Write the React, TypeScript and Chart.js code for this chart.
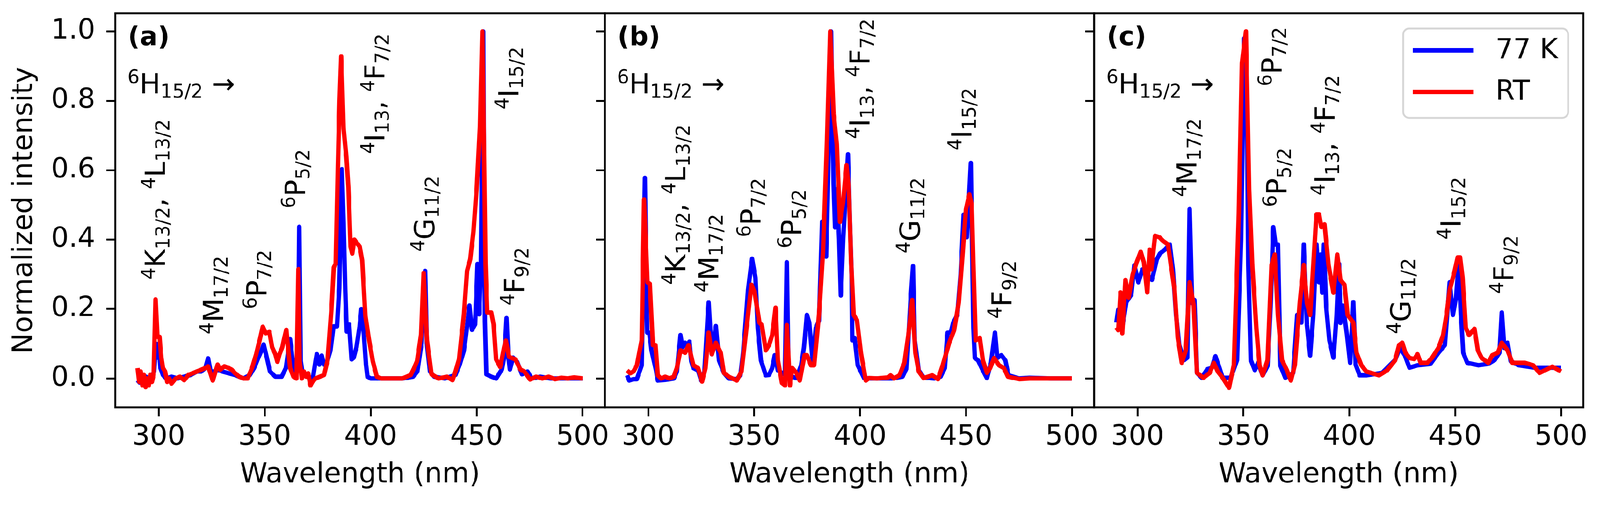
import React, { useEffect, useRef, useState } from "react";
import { Chart, registerables } from "chart.js";

Chart.register(...registerables);

// ---------------- data ----------------
type Pt = [number, number];
type Ann = { text: string; x: number; y: number };

const X_TICKS = [300, 350, 400, 450, 500];
const Y_TICKS = [0, 0.2, 0.4, 0.6, 0.8, 1.0];
const X_RANGE = [279.5, 510.5];
const Y_RANGE = [-0.083, 1.052];
const SERIES_LABELS = ["77 K", "RT"];
const SERIES_COLORS = ["#0000ff", "#ff0000"];
const PANEL_LETTERS = ["(a)", "(b)", "(c)"];
const X_TITLE = "Wavelength (nm)";
const Y_TITLE = "Normalized intensity";
const GROUND_LABEL = "^6H_{15/2} \u2192";

const A_77K: Pt[] = [[290,-0.005],[291,-0.012],[292,0.0],[293,-0.01],[294,0.005],[295,-0.008],[296.5,0.0],[297.8,0.02],[298.8,0.1],[299.4,0.06],[300,0.1],[300.8,0.03],[302,0.01],[303.5,0.0],[306,0.005],[309,0.0],[312,0.005],[315,0.01],[318,0.02],[320,0.02],[322,0.03],[323.3,0.058],[324.5,0.02],[326,0.02],[328,0.025],[330,0.02],[333,0.015],[336,0.01],[340,0.0],[343,0.01],[345,0.03],[347,0.06],[348.5,0.08],[349.5,0.098],[351,0.06],[352.5,0.02],[355,0.005],[358,0.005],[360,0.03],[362,0.113],[363,0.06],[364.5,0.01],[365.7,0.05],[366.3,0.437],[367,0.05],[368,0.01],[370,0.005],[372.7,0.0],[374,0.05],[374.6,0.07],[375.8,0.04],[376.9,0.066],[378,0.04],[379.5,0.05],[381,0.08],[382.5,0.15],[384.1,0.15],[385.2,0.26],[386.4,0.603],[387.2,0.45],[388,0.257],[388.7,0.135],[389.8,0.156],[391,0.055],[392,0.06],[393.3,0.09],[394.8,0.15],[395.6,0.2],[396.5,0.15],[397.8,0.04],[398.5,0.005],[400,0.0],[405,0.0],[410,0.0],[415,0.0],[420,0.005],[422,0.02],[424,0.1],[425.7,0.31],[426.5,0.1],[428,0.02],[430,0.005],[435,0.0],[440,0.01],[442,0.04],[444,0.08],[445.5,0.15],[446.6,0.21],[447.8,0.14],[449.3,0.156],[450.4,0.33],[451.2,0.185],[452,0.315],[453.1,1.0],[453.9,0.163],[454.6,0.012],[457,0.005],[459.2,0.0],[461.9,0.026],[463,0.06],[464.1,0.174],[465,0.06],[465.7,0.026],[467.2,0.06],[469.1,0.048],[471.4,0.012],[474,0.02],[476,0.0],[480,0.005],[485,0.0],[490,0.0],[495,0.0],[500,0.0]];

const A_RT: Pt[] = [[290,0.03],[290.8,-0.01],[291.5,0.02],[292.3,-0.02],[293,0.01],[293.8,-0.025],[294.5,0.0],[295.3,-0.02],[296,0.01],[296.8,-0.01],[297.6,0.01],[298.5,0.228],[299.4,0.12],[300.4,0.12],[301.2,0.06],[302,0.03],[303,0.02],[304,-0.01],[305,0.0],[306,-0.015],[308,0.0],[310,0.005],[312,-0.005],[314,0.01],[316,0.015],[318,0.02],[320,0.025],[322,0.03],[323.3,0.035],[325.5,-0.006],[327.8,0.04],[329,0.025],[331,0.035],[333,0.03],[334.5,0.025],[336,0.015],[338,0.005],[340,0.0],[342,0.0],[344,0.03],[346,0.07],[348,0.12],[349.1,0.149],[350.5,0.13],[352.2,0.134],[353.5,0.09],[355,0.07],[356,0.048],[357,0.07],[358.3,0.09],[359,0.11],[360.2,0.14],[361,0.09],[362,0.03],[363.6,0.005],[365,0.0],[365.9,0.315],[366.5,0.05],[367.5,0.0],[368.5,0.02],[369.5,0.005],[370.5,0.015],[371.6,-0.02],[372.5,-0.01],[374,0.0],[376,0.005],[378,0.01],[379.6,0.05],[381.5,0.2],[382.6,0.32],[383.5,0.33],[384.5,0.6],[385.3,0.8],[386.1,0.928],[387.2,0.72],[388.5,0.64],[389.5,0.55],[390.5,0.38],[391.3,0.36],[392.3,0.4],[393.5,0.39],[394.8,0.38],[396,0.34],[397.5,0.18],[399,0.12],[401,0.05],[402.9,0.005],[405,0.0],[410,0.0],[415,0.0],[418.9,0.01],[420.5,0.03],[421.9,0.05],[423.8,0.127],[425,0.304],[426.5,0.113],[428.7,0.012],[432,0.0],[436,0.005],[438.6,-0.005],[440,0.02],[441.7,0.055],[444,0.185],[445.5,0.31],[447,0.344],[448.5,0.423],[450,0.546],[451.6,0.726],[452.7,1.0],[454.2,0.33],[455,0.19],[456.9,0.19],[458,0.156],[459.2,0.055],[461.1,0.033],[463,0.09],[463.8,0.109],[465.3,0.062],[468.3,0.055],[470.6,0.026],[472.5,0.02],[475.2,-0.003],[478,0.005],[481,0.0],[484,0.005],[487,-0.002],[490,0.002],[493,0.0],[496,0.003],[500,0.0]];

const B_77K: Pt[] = [[290,0.009],[291,-0.006],[293,-0.002],[294.6,-0.002],[296.9,0.038],[298.4,0.578],[299.1,0.27],[299.5,0.132],[300.5,0.132],[301.5,0.081],[303.7,0.023],[304.5,-0.006],[308,-0.004],[312.1,0.0],[313.5,0.02],[315.2,0.125],[316.2,0.09],[317.4,0.103],[318.5,0.09],[319.4,0.106],[320.3,0.05],[321.3,0.03],[323.5,0.023],[325,-0.006],[326.5,0.02],[328.5,0.219],[330,0.07],[331.9,0.151],[333.4,0.052],[335.7,0.016],[338,0.0],[341.8,-0.002],[343.5,0.01],[344.8,0.074],[347.1,0.254],[349,0.345],[350.6,0.29],[351.7,0.146],[353.2,0.052],[355.5,0.009],[357,0.01],[358.5,0.03],[359.7,0.067],[361.2,0.023],[363.1,0.016],[364.5,0.01],[365.4,0.335],[366.2,0.02],[368,0.005],[369.9,0.001],[372.2,0.038],[373.5,0.09],[374.9,0.183],[376,0.161],[377.6,0.052],[379.1,0.145],[380.6,0.167],[382.1,0.452],[383.2,0.45],[384,0.351],[384.8,0.55],[386.3,1.0],[387.5,0.559],[388.2,0.435],[389,0.545],[390.1,0.4],[390.9,0.239],[392,0.4],[393.5,0.56],[394.3,0.646],[395.2,0.45],[396,0.3],[396.3,0.11],[397.4,0.117],[398.9,0.038],[401.9,0.001],[405,0.0],[410,0.0],[415,0.0],[420,0.005],[422,0.03],[424,0.24],[425,0.324],[425.8,0.11],[427.7,0.023],[430,0.003],[435,0.0],[438,0.005],[440,0.03],[441.3,0.132],[442.8,0.132],[444,0.161],[445.9,0.183],[447.5,0.3],[448.9,0.472],[450.4,0.407],[452.3,0.621],[453.5,0.146],[454.2,0.059],[455.7,0.052],[458,0.023],[459.9,0.001],[461.8,0.045],[463.7,0.132],[464.8,0.059],[466.7,0.067],[468.6,0.052],[470.1,0.009],[475,0.0],[480,0.002],[490,0.0],[500,0.0]];

const B_RT: Pt[] = [[290,0.023],[291.5,0.015],[293,0.02],[294.6,0.038],[296.9,0.11],[298,0.516],[299.6,0.277],[300.7,0.273],[302.2,0.096],[303.4,0.096],[304.5,0.009],[306,0.0],[308,0.005],[310,0.0],[312,0.005],[313.5,0.03],[315.2,0.081],[317.4,0.074],[319,0.096],[321.3,0.038],[323.5,0.03],[325.4,-0.009],[327,0.03],[328.5,0.132],[330,0.07],[331.9,0.103],[334.2,0.074],[335.7,0.016],[338,0.005],[341.8,-0.006],[344,0.02],[346.4,0.146],[348.7,0.27],[350.2,0.248],[352.5,0.161],[353.6,0.154],[355.5,0.081],[357,0.096],[358.5,0.125],[360.1,0.204],[361.2,0.052],[363.1,-0.013],[364.6,-0.02],[365.4,0.154],[366.9,-0.02],[368,0.03],[369.9,0.016],[371.5,-0.006],[373.8,0.067],[374.9,0.067],[376.8,0.038],[378.3,0.038],[380.6,0.183],[382.5,0.364],[384.4,0.69],[385.9,1.0],[387.5,0.762],[389,0.675],[390.5,0.451],[392,0.509],[393.6,0.614],[394.7,0.545],[395.8,0.33],[397,0.183],[398.5,0.168],[400.4,0.074],[402.7,-0.006],[404.2,0.001],[408,0.0],[413.3,0.003],[414.4,0.009],[416,0.0],[418.6,0.009],[420.9,0.045],[422.8,0.125],[424.6,0.226],[426.1,0.074],[427.7,0.02],[430,0.001],[434.1,0.009],[436.8,-0.002],[439,0.038],[442.1,0.103],[444.4,0.139],[446.6,0.219],[448.5,0.364],[450,0.487],[451.6,0.53],[452.7,0.501],[453.5,0.328],[454.6,0.11],[456.5,0.117],[458,0.052],[459.9,0.016],[461.4,0.03],[463.3,0.059],[465.6,0.038],[467.9,0.03],[469.8,0.005],[475.4,-0.002],[480,0.0],[490,0.0],[500,0.0]];

const C_77K: Pt[] = [[290,0.161],[290.9,0.198],[292.8,0.147],[294.7,0.22],[297,0.241],[298.5,0.326],[300.4,0.277],[302.3,0.314],[304.6,0.299],[306.8,0.284],[309.1,0.343],[310.6,0.36],[312.9,0.371],[315.2,0.386],[316.7,0.314],[318.2,0.183],[319.7,0.096],[322,0.053],[323.5,0.06],[324.6,0.488],[325.8,0.217],[326.9,0.226],[328.1,0.016],[330.3,0.002],[333,0.027],[335,0.03],[336.8,0.064],[338.7,0.03],[340.2,0.002],[344,0.002],[347,0.053],[348.9,0.4],[350.4,0.98],[351.6,0.835],[352.3,0.326],[353.5,0.053],[355.4,0.024],[356.9,0.045],[359.1,0.009],[361.4,0.036],[362.9,0.217],[364.1,0.436],[365.2,0.386],[366.3,0.386],[367.5,0.036],[369.8,0.002],[373.5,0.016],[375.4,0.183],[377.4,0.161],[378.5,0.386],[380,0.154],[381.5,0.066],[383,0.183],[384.5,0.386],[385.7,0.277],[386.4,0.357],[387.2,0.247],[388,0.386],[389.1,0.205],[390.6,0.11],[392.5,0.06],[394,0.18],[394.6,0.26],[395.2,0.33],[395.8,0.16],[397,0.21],[398.9,0.125],[400.4,0.045],[401.9,0.22],[403,0.04],[404.9,0.009],[408,0.009],[415.5,0.016],[421.6,0.053],[423.9,0.088],[426.2,0.067],[428.4,0.031],[432.2,0.038],[438.3,0.042],[442.1,0.074],[445.1,0.096],[447.4,0.277],[448.9,0.183],[450.4,0.233],[451.6,0.326],[452.7,0.183],[453.8,0.074],[455.7,0.045],[461,0.038],[465.6,0.042],[468.6,0.053],[470.9,0.074],[472,0.19],[473.2,0.088],[474.7,0.103],[476.2,0.05],[480,0.038],[487.6,0.031],[500,0.031]];

const C_RT: Pt[] = [[290,0.147],[290.9,0.139],[292,0.248],[292.8,0.13],[294.3,0.284],[295.8,0.233],[297.7,0.299],[299.6,0.335],[301.5,0.365],[303,0.335],[304.6,0.248],[305.7,0.371],[306.5,0.314],[308.3,0.411],[310.3,0.407],[312.1,0.396],[314.4,0.386],[315.9,0.321],[317.5,0.255],[319,0.118],[320.9,0.045],[322.8,0.081],[324.6,0.277],[326.5,0.212],[328.1,0.016],[331.1,0.002],[334.1,0.016],[336,0.045],[337.9,0.02],[340.2,0.002],[343.2,-0.027],[345.5,0.039],[347.8,0.473],[349.3,0.908],[351.2,1.0],[352.7,0.545],[354.2,0.327],[356.1,0.147],[357.6,0.038],[359.1,0.009],[361.4,0.053],[363.3,0.327],[364.8,0.357],[366.3,0.183],[368.2,0.053],[370.5,0.024],[372.4,-0.006],[374.3,0.039],[376.6,0.217],[378.5,0.327],[380,0.217],[381.5,0.183],[383,0.327],[384.5,0.473],[385.7,0.473],[386.8,0.436],[388.3,0.444],[390.2,0.327],[392.5,0.247],[394.3,0.357],[395.8,0.284],[397.7,0.27],[399.2,0.183],[401.9,0.161],[403.4,0.074],[405.7,0.038],[408,0.02],[414,0.009],[417.8,0.023],[421.6,0.052],[423.5,0.096],[425,0.103],[426.5,0.074],[428.4,0.059],[430.7,0.056],[432.2,0.07],[433.7,0.045],[436.8,0.045],[439,0.059],[442.1,0.088],[444.3,0.125],[445.9,0.183],[447.4,0.255],[449.3,0.299],[451.2,0.349],[452.3,0.349],[453.5,0.291],[455,0.146],[456.5,0.125],[459.1,0.143],[460.7,0.081],[462.5,0.059],[465.6,0.045],[467.5,0.067],[470.1,0.074],[472,0.103],[474.7,0.081],[477,0.045],[483,0.045],[486.8,0.038],[489.8,0.016],[495.9,0.034],[500,0.02]];

const A_LABELS: Ann[] = [
  { text: "^4K_{13/2}, ^4L_{13/2}", x: 303.0, y: 0.285 },
  { text: "^4M_{17/2}", x: 330.3, y: 0.127 },
  { text: "^6P_{7/2}", x: 350.8, y: 0.2 },
  { text: "^6P_{5/2}", x: 369.0, y: 0.49 },
  { text: "^4I_{13}, ^4F_{7/2}", x: 406.5, y: 0.647 },
  { text: "^4G_{11/2}", x: 430.0, y: 0.365 },
  { text: "^4I_{15/2}", x: 469.8, y: 0.775 },
  { text: "^4F_{9/2}", x: 472.3, y: 0.21 },
];
const B_LABELS: Ann[] = [
  { text: "^4K_{13/2}, ^4L_{13/2}", x: 317.5, y: 0.27 },
  { text: "^4M_{17/2}", x: 333.0, y: 0.248 },
  { text: "^6P_{7/2}", x: 353.0, y: 0.407 },
  { text: "^6P_{5/2}", x: 372.2, y: 0.375 },
  { text: "^4I_{13}, ^4F_{7/2}", x: 404.5, y: 0.69 },
  { text: "^4G_{11/2}", x: 428.2, y: 0.36 },
  { text: "^4I_{15/2}", x: 452.5, y: 0.657 },
  { text: "^4F_{9/2}", x: 471.5, y: 0.172 },
];
const C_LABELS: Ann[] = [
  { text: "^4M_{17/2}", x: 327.8, y: 0.523 },
  { text: "^6P_{7/2}", x: 368.1, y: 0.842 },
  { text: "^6P_{5/2}", x: 370.3, y: 0.494 },
  { text: "^4I_{13}, ^4F_{7/2}", x: 393.0, y: 0.527 },
  { text: "^4G_{11/2}", x: 428.9, y: 0.128 },
  { text: "^4I_{15/2}", x: 452.6, y: 0.4 },
  { text: "^4F_{9/2}", x: 477.5, y: 0.244 },
];

// ---------------- drawing helpers ----------------
const FAMILY = '"DejaVu Sans"';
const FS = 75;
const LINE_W = 12;
const DESIGN_W = 4317;
const DESIGN_H = 1357;

type Seg = { t: string; k: number };
function parseMath(s: string): Seg[] {
  const segs: Seg[] = [];
  let buf = "";
  let i = 0;
  const flush = () => { if (buf) { segs.push({ t: buf, k: 0 }); buf = ""; } };
  while (i < s.length) {
    const c = s[i];
    if (c === "^" || c === "_") {
      flush();
      let t = "";
      if (s[i + 1] === "{") {
        const j = s.indexOf("}", i + 2);
        t = s.slice(i + 2, j);
        i = j + 1;
      } else {
        t = s[i + 1];
        i += 2;
      }
      segs.push({ t, k: c === "^" ? 1 : -1 });
    } else {
      buf += c;
      i++;
    }
  }
  flush();
  return segs;
}

function drawMath(ctx: CanvasRenderingContext2D, s: string, x: number, y: number) {
  let cx = x;
  ctx.textBaseline = "alphabetic";
  ctx.textAlign = "left";
  for (const seg of parseMath(s)) {
    const size = seg.k === 0 ? FS : FS * 0.68;
    ctx.font = `${size}px ${FAMILY}`;
    const dy = seg.k === 1 ? -0.36 * FS : seg.k === -1 ? 0.16 * FS : 0;
    ctx.fillText(seg.t, cx, y + dy);
    cx += ctx.measureText(seg.t).width;
  }
}

function overlayPlugin(letter: string, labels: Ann[], legend: boolean) {
  return {
    id: "overlay",
    afterDraw(chart: any) {
      const { ctx, chartArea: a, scales } = chart;
      ctx.save();
      ctx.fillStyle = "#000";
      ctx.font = `bold 71px ${FAMILY}`;
      ctx.textBaseline = "alphabetic";
      ctx.textAlign = "left";
      ctx.fillText(letter, a.left + 34, a.top + 86);
      drawMath(ctx, GROUND_LABEL, a.left + 33, a.top + 216);
      for (const an of labels) {
        const px = scales.x.getPixelForValue(an.x);
        const py = scales.y.getPixelForValue(an.y);
        ctx.save();
        ctx.translate(px, py);
        ctx.rotate(-Math.PI / 2);
        drawMath(ctx, an.text, 0, 0);
        ctx.restore();
      }
      if (legend) {
        const bw = 445, bh = 241;
        const bx = a.right - 41 - bw, by = a.top + 41;
        ctx.beginPath();
        (ctx as any).roundRect(bx, by, bw, bh, 16);
        ctx.fillStyle = "rgba(255,255,255,0.8)";
        ctx.fill();
        ctx.strokeStyle = "#d6d6d6";
        ctx.lineWidth = 5;
        ctx.stroke();
        chart.data.datasets.forEach((ds: any, i: number) => {
          const ly = by + 59 + i * 112;
          ctx.strokeStyle = ds.borderColor;
          ctx.lineWidth = LINE_W;
          ctx.lineCap = "butt";
          ctx.beginPath();
          ctx.moveTo(bx + 26, ly);
          ctx.lineTo(bx + 189, ly);
          ctx.stroke();
          ctx.fillStyle = "#000";
          ctx.font = `${FS}px ${FAMILY}`;
          ctx.textBaseline = "middle";
          ctx.textAlign = "left";
          ctx.fillText(ds.label, bx + 249, ly + 2);
        });
      }
      ctx.strokeStyle = "#000";
      ctx.lineWidth = 5;
      ctx.strokeRect(a.left, a.top, a.right - a.left, a.bottom - a.top);
      ctx.restore();
    },
  };
}

type PanelDef = {
  s77: Pt[];
  sRT: Pt[];
  letter: string;
  labels: Ann[];
  legend: boolean;
  showY: boolean;
  yWidth: number;
};

function makeConfig(p: PanelDef): any {
  const font = { size: FS, family: FAMILY };
  const grid = {
    drawOnChartArea: false,
    drawTicks: true,
    tickLength: 24,
    tickWidth: 5,
    tickColor: "#000",
  };
  const mk = (pts: Pt[], i: number) => ({
    label: SERIES_LABELS[i],
    data: pts.map(([x, y]) => ({ x, y })),
    borderColor: SERIES_COLORS[i],
    backgroundColor: SERIES_COLORS[i],
    borderWidth: LINE_W,
    pointRadius: 0,
    tension: 0,
    borderJoinStyle: "round",
    order: i === 0 ? 1 : 0,
  });
  return {
    type: "line",
    data: { datasets: [mk(p.s77, 0), mk(p.sRT, 1)] },
    options: {
      animation: false,
      responsive: false,
      events: [],
      layout: { padding: { left: 0, top: 36, right: 28, bottom: 0 } },
      plugins: { legend: { display: false }, tooltip: { enabled: false } },
      scales: {
        x: {
          type: "linear",
          min: X_RANGE[0],
          max: X_RANGE[1],
          bounds: "data",
          afterBuildTicks: (s: any) => { s.ticks = X_TICKS.map((v) => ({ value: v })); },
          afterFit: (s: any) => { s.height = 258; s.paddingLeft = 0; s.paddingRight = 0; },
          grid,
          border: { display: false },
          ticks: {
            color: "#000",
            font,
            padding: 13,
            maxRotation: 0,
            autoSkip: false,
            callback: (v: any) => String(v),
          },
          title: {
            display: true,
            text: X_TITLE,
            color: "#000",
            font,
            padding: { top: 0, bottom: 29 },
          },
        },
        y: {
          type: "linear",
          min: Y_RANGE[0],
          max: Y_RANGE[1],
          bounds: "data",
          afterBuildTicks: (s: any) => { s.ticks = Y_TICKS.map((v) => ({ value: v })); },
          afterFit: (s: any) => { s.width = p.yWidth; s.paddingTop = 0; s.paddingBottom = 0; },
          grid,
          border: { display: false },
          ticks: {
            display: p.showY,
            color: "#000",
            font,
            padding: 30,
            autoSkip: false,
            callback: (v: any) => Number(v).toFixed(1),
          },
          title: {
            display: p.showY,
            text: Y_TITLE,
            color: "#000",
            font,
            padding: { top: 22, bottom: 0 },
          },
        },
      },
    },
    plugins: [overlayPlugin(p.letter, p.labels, p.legend)],
  };
}

const PANELS: PanelDef[] = [
  { s77: A_77K, sRT: A_RT, letter: PANEL_LETTERS[0], labels: A_LABELS, legend: false, showY: true, yWidth: 311 },
  { s77: B_77K, sRT: B_RT, letter: PANEL_LETTERS[1], labels: B_LABELS, legend: false, showY: false, yWidth: 40 },
  { s77: C_77K, sRT: C_RT, letter: PANEL_LETTERS[2], labels: C_LABELS, legend: true, showY: false, yWidth: 40 },
];

const CANVAS_BOXES = [
  { left: 0, width: 1660 },
  { left: 1592, width: 1388 },
  { left: 2912, width: 1388 },
];

function viewportScale(): number {
  const w = document.documentElement.clientWidth || window.innerWidth || DESIGN_W;
  const h = document.documentElement.clientHeight || window.innerHeight || DESIGN_H;
  return Math.min(w / DESIGN_W, h / DESIGN_H);
}

export default function App() {
  const r0 = useRef<HTMLCanvasElement>(null);
  const r1 = useRef<HTMLCanvasElement>(null);
  const r2 = useRef<HTMLCanvasElement>(null);
  const refs = [r0, r1, r2];
  const [scale, setScale] = useState<number>(() => (typeof window !== "undefined" ? viewportScale() : 1));

  useEffect(() => {
    const onResize = () => setScale(viewportScale());
    window.addEventListener("resize", onResize);
    return () => window.removeEventListener("resize", onResize);
  }, []);

  useEffect(() => {
    Chart.defaults.font.family = FAMILY;
    Chart.defaults.color = "#000";
    const charts = PANELS.map((p, i) => new Chart(refs[i].current as HTMLCanvasElement, makeConfig(p)));
    return () => charts.forEach((c) => c.destroy());
  }, []);

  return (
    <div
      style={{
        position: "fixed",
        left: 0,
        top: 0,
        width: DESIGN_W,
        height: DESIGN_H,
        background: "#fff",
        overflow: "hidden",
        transform: `scale(${scale})`,
        transformOrigin: "0 0",
      }}
    >
      {CANVAS_BOXES.map((b, i) => (
        <canvas
          key={i}
          ref={refs[i]}
          width={b.width}
          height={DESIGN_H}
          style={{ position: "absolute", left: b.left, top: 0, width: b.width, height: DESIGN_H }}
        />
      ))}
    </div>
  );
}
